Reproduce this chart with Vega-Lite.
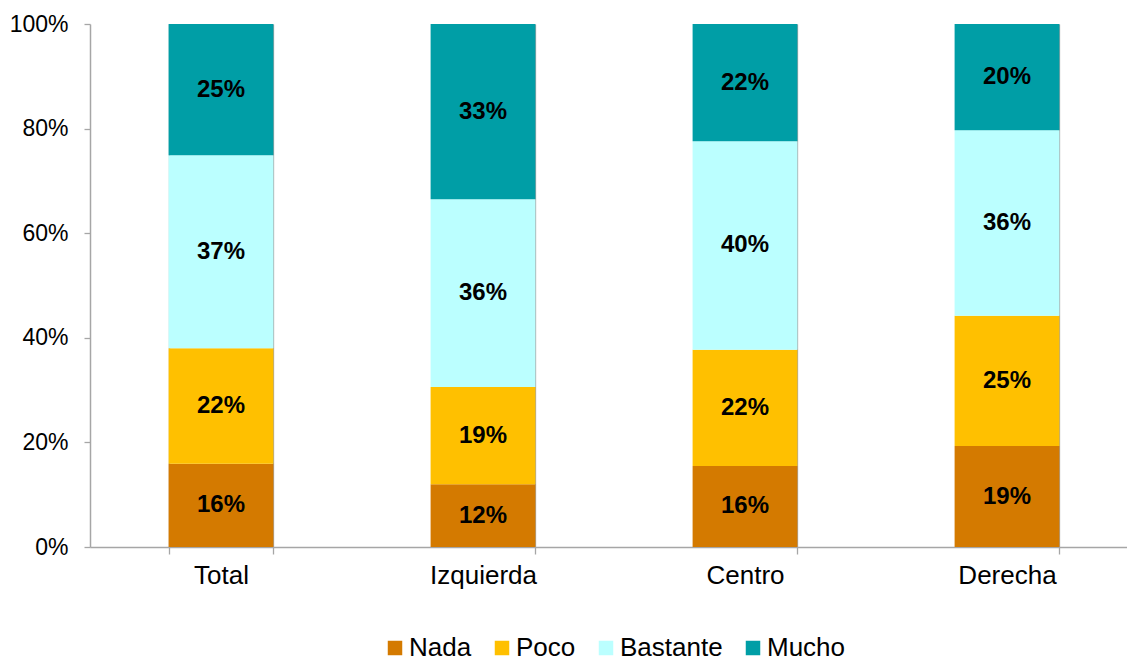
{
  "$schema": "https://vega.github.io/schema/vega-lite/v6.json",
  "width": 1037,
  "height": 523,
  "autosize": "none",
  "padding": {"left": 90, "top": 24, "right": 0, "bottom": 114},
  "background": "white",
  "config": {"font": "Liberation Sans", "view": {"stroke": null}},
  "data": {
    "values": [
      {"grupo": "Total", "cat": "Nada", "k": 1, "v": 0.159, "lab": "16%"},
      {"grupo": "Total", "cat": "Poco", "k": 2, "v": 0.221, "lab": "22%"},
      {"grupo": "Total", "cat": "Bastante", "k": 3, "v": 0.369, "lab": "37%"},
      {"grupo": "Total", "cat": "Mucho", "k": 4, "v": 0.251, "lab": "25%"},
      {"grupo": "Izquierda", "cat": "Nada", "k": 1, "v": 0.120, "lab": "12%"},
      {"grupo": "Izquierda", "cat": "Poco", "k": 2, "v": 0.186, "lab": "19%"},
      {"grupo": "Izquierda", "cat": "Bastante", "k": 3, "v": 0.359, "lab": "36%"},
      {"grupo": "Izquierda", "cat": "Mucho", "k": 4, "v": 0.335, "lab": "33%"},
      {"grupo": "Centro", "cat": "Nada", "k": 1, "v": 0.155, "lab": "16%"},
      {"grupo": "Centro", "cat": "Poco", "k": 2, "v": 0.222, "lab": "22%"},
      {"grupo": "Centro", "cat": "Bastante", "k": 3, "v": 0.399, "lab": "40%"},
      {"grupo": "Centro", "cat": "Mucho", "k": 4, "v": 0.224, "lab": "22%"},
      {"grupo": "Derecha", "cat": "Nada", "k": 1, "v": 0.193, "lab": "19%"},
      {"grupo": "Derecha", "cat": "Poco", "k": 2, "v": 0.249, "lab": "25%"},
      {"grupo": "Derecha", "cat": "Bastante", "k": 3, "v": 0.355, "lab": "36%"},
      {"grupo": "Derecha", "cat": "Mucho", "k": 4, "v": 0.203, "lab": "20%"}
    ]
  },
  "transform": [
    {"stack": "v", "groupby": ["grupo"], "sort": [{"field": "k", "order": "ascending"}], "as": ["y0", "y1"]},
    {"calculate": "(datum.y0 + datum.y1) / 2", "as": "ym"}
  ],
  "encoding": {
    "x": {
      "field": "grupo",
      "type": "nominal",
      "sort": ["Total", "Izquierda", "Centro", "Derecha"],
      "title": null,
      "scale": {"range": [0, 1048], "paddingInner": 0.6, "paddingOuter": 0.3},
      "axis": {
        "labelAngle": 0,
        "labelFontSize": 26,
        "labelColor": "black",
        "tickBand": "extent",
        "grid": true,
        "gridColor": "#A6A6A6",
        "gridWidth": 1.3,
        "domainColor": "#A6A6A6",
        "domainWidth": 1.5,
        "tickColor": "#A6A6A6",
        "tickWidth": 1.3,
        "tickSize": 7,
        "labelPadding": 8
      }
    }
  },
  "layer": [
    {
      "mark": {"type": "bar"},
      "encoding": {
        "y": {
          "field": "y0",
          "type": "quantitative",
          "title": null,
          "scale": {"domain": [0, 1], "nice": false},
          "axis": {
            "format": ".0%",
            "values": [0, 0.2, 0.4, 0.6, 0.8, 1],
            "grid": false,
            "labelFontSize": 23,
            "labelColor": "black",
            "domainColor": "#A6A6A6",
            "domainWidth": 1.5,
            "tickColor": "#A6A6A6",
            "tickWidth": 1.3,
            "tickSize": 6,
            "labelPadding": 16
          }
        },
        "y2": {"field": "y1"},
        "color": {
          "field": "cat",
          "type": "nominal",
          "title": null,
          "scale": {
            "domain": ["Nada", "Poco", "Bastante", "Mucho"],
            "range": ["#D47A00", "#FFC000", "#BBFFFF", "#009EA6"]
          },
          "legend": {
            "orient": "none",
            "direction": "horizontal",
            "legendX": 292,
            "legendY": 611,
            "padding": 0,
            "symbolType": "square",
            "symbolSize": 210,
            "symbolStrokeWidth": 0,
            "labelFontSize": 26,
            "labelColor": "black",
            "labelOffset": 1,
            "columnPadding": 17
          }
        }
      }
    },
    {
      "mark": {"type": "text", "fontWeight": "bold", "fontSize": 24, "color": "black"},
      "encoding": {
        "y": {"field": "ym", "type": "quantitative"},
        "text": {"field": "lab"}
      }
    }
  ]
}
